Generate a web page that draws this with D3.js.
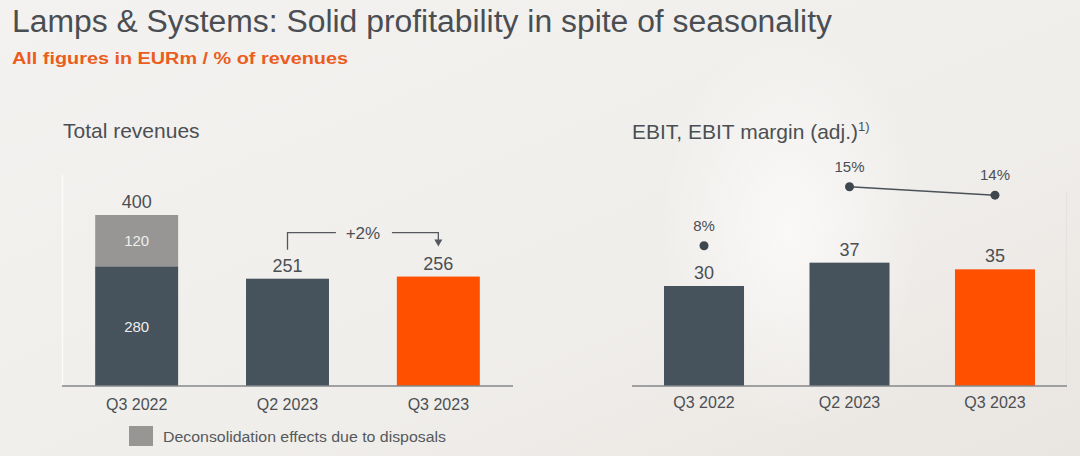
<!DOCTYPE html>
<html>
<head>
<meta charset="utf-8">
<script src="https://cdn.jsdelivr.net/npm/d3@7"></script>
<style>
  body { margin: 0; background: #f1efec; }
  svg { display: block; font-family: "Liberation Sans", Arial, sans-serif; }
</style>
</head>
<body>
<div id="chart"></div>
<script>
// data
var categories = ["Q3 2022", "Q2 2023", "Q3 2023"];
var revContinuing = [280, 251, 256];
var revDeconsolidated = [120, 0, 0];
var revTotal = [400, 251, 256];
var ebit = [30, 37, 35];
var ebitMargin = [8, 15, 14];
var marginLinked = [false, true, true];
var growthLabel = "+2%";

var width = 1080, height = 456;
var dark = "#46525c", orange = "#ff5000", grey = "#979695", txt = "#4b4f53";

var svg = d3.select("#chart").append("svg")
	.attr("width", width)
	.attr("height", height);

// background
var defs = svg.append("defs");
var bg = defs.append("linearGradient").attr("id", "bg").attr("x1", 0).attr("y1", 0).attr("x2", 1).attr("y2", 1);
bg.append("stop").attr("offset", "0%").attr("stop-color", "#f4f2f0");
bg.append("stop").attr("offset", "60%").attr("stop-color", "#f0eeeb");
bg.append("stop").attr("offset", "100%").attr("stop-color", "#e9e5e1");
var glow = defs.append("radialGradient").attr("id", "glow");
glow.append("stop").attr("offset", "0%").attr("stop-color", "#fbfaf9").attr("stop-opacity", 0.9);
glow.append("stop").attr("offset", "100%").attr("stop-color", "#fbfaf9").attr("stop-opacity", 0);
svg.append("rect").attr("width", width).attr("height", height).attr("fill", "url(#bg)");
svg.append("ellipse").attr("cx", 790).attr("cy", 230).attr("rx", 130).attr("ry", 200).attr("fill", "url(#glow)");

// titles (slide is a bit wider than the font, so stretch to fit)
svg.append("text").attr("x", 12).attr("y", 32)
	.attr("font-size", 31).attr("fill", "#4a4e53")
	.attr("textLength", 820).attr("lengthAdjust", "spacingAndGlyphs")
	.text("Lamps & Systems: Solid profitability in spite of seasonality");
svg.append("text").attr("x", 12).attr("y", 64)
	.attr("font-size", 16).attr("font-weight", "bold").attr("fill", "#ea5d1c")
	.attr("textLength", 336).attr("lengthAdjust", "spacingAndGlyphs")
	.text("All figures in EURm / % of revenues");

// ---------- left: total revenues ----------
var base = 386;
var xRev = d3.scaleBand().domain(categories).range([62, 513]).paddingInner(0.45).paddingOuter(0.22);
var yRev = d3.scaleLinear().domain([0, 400]).range([base, 215]);

svg.append("text").attr("x", 63).attr("y", 138)
	.attr("font-size", 21).attr("fill", txt).text("Total revenues");

svg.append("line").attr("x1", 62.5).attr("x2", 62.5).attr("y1", 175).attr("y2", base)
	.attr("stroke", "#fcfbfa").attr("stroke-width", 1.5);

var left = svg.append("g");
left.selectAll("rect.cont")
	.data(categories).enter().append("rect")
		.attr("class", "cont")
		.attr("x", function(d) {return xRev(d)})
		.attr("width", xRev.bandwidth())
		.attr("y", function(d, i) {return yRev(revContinuing[i])})
		.attr("height", function(d, i) {return base - yRev(revContinuing[i])})
		.attr("fill", function(d, i) {return i == 2 ? orange : dark});

left.selectAll("rect.deco")
	.data(categories).enter().append("rect")
		.attr("class", "deco")
		.attr("x", function(d) {return xRev(d)})
		.attr("width", xRev.bandwidth())
		.attr("y", function(d, i) {return yRev(revContinuing[i] + revDeconsolidated[i])})
		.attr("height", function(d, i) {return yRev(revContinuing[i]) - yRev(revContinuing[i] + revDeconsolidated[i])})
		.attr("fill", grey);

left.selectAll("text.total")
	.data(categories).enter().append("text")
		.attr("x", function(d) {return xRev(d) + xRev.bandwidth() / 2})
		.attr("y", function(d, i) {return yRev(revTotal[i]) - 7})
		.attr("text-anchor", "middle").attr("font-size", 18).attr("fill", txt)
		.text(function(d, i) {return revTotal[i]});

// inside labels only for the split bar
categories.forEach(function(d, i) {
	if (revDeconsolidated[i] > 0) {
		var cx = xRev(d) + xRev.bandwidth() / 2;
		left.append("text").attr("x", cx)
			.attr("y", (yRev(revContinuing[i]) + yRev(revTotal[i])) / 2 + 5.5)
			.attr("text-anchor", "middle").attr("font-size", 15).attr("fill", "#eeeeee")
			.text(revDeconsolidated[i]);
		left.append("text").attr("x", cx)
			.attr("y", (yRev(revContinuing[i]) + base) / 2 + 5.5)
			.attr("text-anchor", "middle").attr("font-size", 15).attr("fill", "#eeeeee")
			.text(revContinuing[i]);
	}
});

svg.append("line").attr("x1", 62).attr("x2", 513).attr("y1", base).attr("y2", base)
	.attr("stroke", "#85878a").attr("stroke-width", 1.5);

left.selectAll("text.cat")
	.data(categories).enter().append("text")
		.attr("x", function(d) {return xRev(d) + xRev.bandwidth() / 2})
		.attr("y", 410)
		.attr("text-anchor", "middle").attr("font-size", 16).attr("fill", txt)
		.text(function(d) {return d});

// growth bracket Q2 2023 -> Q3 2023
var gx1 = xRev(categories[1]) + xRev.bandwidth() / 2;
var gx2 = xRev(categories[2]) + xRev.bandwidth() / 2;
var gyTop = yRev(d3.max([revTotal[1], revTotal[2]])) - 44;
var gMid = (gx1 + gx2) / 2;
var ann = svg.append("g").attr("stroke", "#55595d").attr("stroke-width", 1.3).attr("fill", "none");
ann.append("path").attr("d", "M" + gx1 + "," + (yRev(revTotal[1]) - 29) + "V" + gyTop + "H" + (gMid - 27));
ann.append("path").attr("d", "M" + (gMid + 29) + "," + gyTop + "H" + gx2 + "V" + (yRev(revTotal[2]) - 36));
svg.append("path")
	.attr("d", "M" + (gx2 - 4) + "," + (yRev(revTotal[2]) - 37) + "L" + (gx2 + 4) + "," + (yRev(revTotal[2]) - 37) + "L" + gx2 + "," + (yRev(revTotal[2]) - 30) + "Z")
	.attr("fill", "#55595d");
svg.append("text").attr("x", gMid).attr("y", gyTop + 6)
	.attr("text-anchor", "middle").attr("font-size", 17).attr("fill", txt)
	.text(growthLabel);

// ---------- right: EBIT ----------
var xEbit = d3.scaleBand().domain(categories).range([632, 1067]).paddingInner(0.45).paddingOuter(0.22);
var yEbit = d3.scaleLinear().domain([0, 30]).range([base, 286]);
var yMargin = d3.scaleLinear().domain([8, 15]).range([245.7, 186.7]);

var title2 = svg.append("text").attr("x", 632).attr("y", 139)
	.attr("font-size", 21).attr("fill", txt);
title2.append("tspan").text("EBIT, EBIT margin (adj.)");
title2.append("tspan").attr("font-size", 13).attr("dy", -8).text("1)");

svg.append("line").attr("x1", 1066.5).attr("x2", 1066.5).attr("y1", 192).attr("y2", base)
	.attr("stroke", "#e4e1de").attr("stroke-width", 1.2);

var right = svg.append("g");
right.selectAll("rect")
	.data(categories).enter().append("rect")
		.attr("x", function(d) {return xEbit(d)})
		.attr("width", xEbit.bandwidth())
		.attr("y", function(d, i) {return yEbit(ebit[i])})
		.attr("height", function(d, i) {return base - yEbit(ebit[i])})
		.attr("fill", function(d, i) {return i == 2 ? orange : dark});

right.selectAll("text.val")
	.data(categories).enter().append("text")
		.attr("x", function(d) {return xEbit(d) + xEbit.bandwidth() / 2})
		.attr("y", function(d, i) {return yEbit(ebit[i]) - 7})
		.attr("text-anchor", "middle").attr("font-size", 18).attr("fill", txt)
		.text(function(d, i) {return ebit[i]});

svg.append("line").attr("x1", 632).attr("x2", 1067).attr("y1", base).attr("y2", base)
	.attr("stroke", "#85878a").attr("stroke-width", 1.5);

right.selectAll("text.cat")
	.data(categories).enter().append("text")
		.attr("x", function(d) {return xEbit(d) + xEbit.bandwidth() / 2})
		.attr("y", 408)
		.attr("text-anchor", "middle").attr("font-size", 16).attr("fill", txt)
		.text(function(d) {return d});

// margin line
var marginPts = categories.map(function(d, i) {
	return {x: xEbit(d) + xEbit.bandwidth() / 2, y: yMargin(ebitMargin[i]), v: ebitMargin[i], linked: marginLinked[i]};
});
var line = d3.line().x(function(d) {return d.x}).y(function(d) {return d.y});
right.append("path")
	.datum(marginPts.filter(function(d) {return d.linked}))
	.attr("d", line)
	.attr("fill", "none").attr("stroke", "#4a5258").attr("stroke-width", 1.5);
right.selectAll("circle")
	.data(marginPts).enter().append("circle")
		.attr("cx", function(d) {return d.x})
		.attr("cy", function(d) {return d.y})
		.attr("r", 4.5).attr("fill", "#3f474e");
right.selectAll("text.pct")
	.data(marginPts).enter().append("text")
		.attr("x", function(d) {return d.x})
		.attr("y", function(d) {return d.y - 15})
		.attr("text-anchor", "middle").attr("font-size", 15).attr("fill", txt)
		.text(function(d) {return d.v + "%"});

// legend
svg.append("rect").attr("x", 129).attr("y", 426).attr("width", 24).attr("height", 20).attr("fill", grey);
svg.append("text").attr("x", 163).attr("y", 442)
	.attr("font-size", 15.5).attr("fill", "#55595d")
	.attr("textLength", 283).attr("lengthAdjust", "spacingAndGlyphs")
	.text("Deconsolidation effects due to disposals");
</script>
</body>
</html>
